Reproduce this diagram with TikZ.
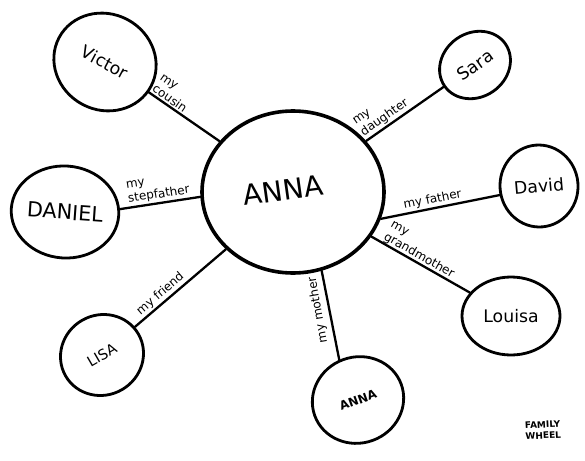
\documentclass[tikz,border=0pt]{standalone}
\usepackage{fontspec}
\setsansfont{DejaVu Sans}
\usetikzlibrary{shapes.geometric}
\begin{document}
\begin{tikzpicture}[x=1pt,y=-1pt,line join=round,line cap=round,font=\sffamily,
    person/.style={draw,ellipse,line width=2.8pt,inner sep=0pt,font=\sffamily\LARGE},
    link/.style={line width=2.3pt},
    rel/.style={font=\sffamily\large,align=left,inner sep=1.5pt,sloped}]
    \useasboundingbox (0,0) rectangle (585,460);
    % centre of the wheel
    \node[person,line width=3.6pt,minimum width=182pt,minimum height=162pt] (anna) at (293,192) {};
    \node[rotate=8,font=\sffamily\fontsize{28}{30}\selectfont] (annaname) at (283,190) {ANNA};
    % the people round her
    \node[person,minimum width=104pt,minimum height=96pt,rotate=-28] (victor) at (105,62) {Victor};
    \node[person,minimum width=104pt,minimum height=92pt,rotate=-4,font=\sffamily\huge] (daniel) at (65,212) {DANIEL};
    \node[person,minimum width=74pt,minimum height=64pt,rotate=35] (sara) at (475,65) {Sara};
    \node[person,minimum width=78pt,minimum height=82pt,rotate=5] (david) at (539,186) {David};
    \node[person,minimum width=98pt,minimum height=78pt] (louisa) at (511,316) {Louisa};
    \node[person,minimum width=92pt,minimum height=86pt,rotate=20,font=\sffamily\large\bfseries] (mother) at (358,400) {ANNA};
    \node[person,minimum width=84pt,minimum height=80pt,rotate=30,font=\sffamily\Large] (lisa) at (102,355) {LISA};
    % spokes
    \draw[link] (victor) -- (anna) node[rel,pos=.24,above] (cousin) {my\\cousin};
    \draw[link] (daniel.7) -- (anna.183) node[rel,midway,above] (stepfather) {my\\stepfather};
    \draw[link] (anna) -- (sara) node[rel,pos=.3,above] (daughter) {my\\daughter};
    \draw[link] (anna.-17) -- (david.188) node[rel,pos=.45,above] (father) {my father};
    \draw[link] (anna) -- (louisa) node[rel,pos=.45,above,inner sep=0pt] (grandmother) {my\\grandmother};
    \draw[link] (anna.-70) -- (mother.95);
    \node[rotate=100,font=\sffamily\large] (motherlbl) at (318,310) {my mother};
    \draw[link] (lisa) -- (anna) node[rel,pos=.34,above] (friend) {my friend};
    \node[font=\sffamily\small\bfseries,align=left,rotate=3] (title) at (543,430) {FAMILY\\WHEEL};
\end{tikzpicture}
\end{document}
